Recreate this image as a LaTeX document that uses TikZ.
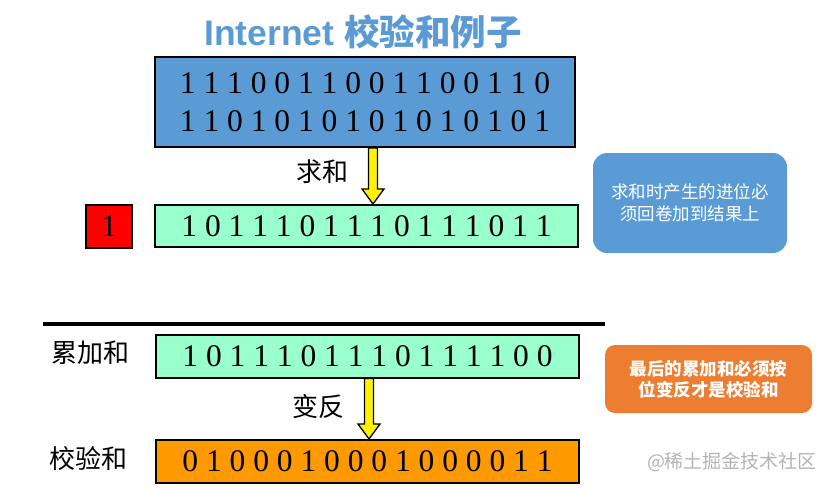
\documentclass[tikz,border=0pt]{standalone}
\usepackage{fontspec}
\setmainfont{Liberation Serif}
\newfontfamily\cjk{Noto Sans CJK SC}
\newfontfamily\titlefont{Liberation Sans}
\usetikzlibrary{calc}
\definecolor{boxblue}{HTML}{5B9BD5}
\definecolor{mint}{HTML}{99FFCC}
\definecolor{amber}{HTML}{FF9900}
\definecolor{noteorange}{HTML}{ED7D31}
\definecolor{marktext}{HTML}{B4B4B4}
\tikzset{
  bitbox/.style={draw=black, line width=2pt, inner sep=0pt, font=\fontsize{31.5}{38}\selectfont, align=center},
  lbl/.style={font=\cjk\fontsize{26}{30}\selectfont, inner sep=0pt},
  note/.style={rounded corners=14pt, inner sep=0pt, text=white, align=center, font=\cjk\fontsize{17.5}{21.5}\selectfont},
  fatarrow/.style={fill=yellow, draw=black, line width=1.3pt, line join=miter}
}
\newcommand\yellowarrow[2]{%
  \draw[fatarrow] ($(#1)+(-4.5,0)$) -- ($(#2)+(-4.5,-15)$) -- ($(#2)+(-11,-15)$) -- (#2)
    -- ($(#2)+(11,-15)$) -- ($(#2)+(4.5,-15)$) -- ($(#1)+(4.5,0)$) -- cycle;}
\begin{document}
\begin{tikzpicture}[x=1pt,y=-1pt]
\useasboundingbox (0,0) rectangle (826,487);
% title
\node[text=boxblue, inner sep=0pt] (title) at (363,32)
  {\titlefont\bfseries\fontsize{35.5}{40}\selectfont Internet {\cjk\bfseries 校验和例子}};
% data words
\node[bitbox, fill=boxblue, minimum width=420, minimum height=90] (data) at (365,102)
  {1 1 1 0 0 1 1 0 0 1 1 0 0 1 1 0\\1 1 0 1 0 1 0 1 0 1 0 1 0 1 0 1};
% sum
\node[bitbox, fill=mint, minimum width=423, minimum height=42] (sum) at (366.5,226)
  {1 0 1 1 1 0 1 1 1 0 1 1 1 0 1 1};
\node[bitbox, fill=red, minimum width=46, minimum height=43] (carry) at (109,226.5) {1};
\coordinate (a1s) at ([xshift=8pt]data.south);
\coordinate (a1e) at (a1s |- sum.north);
\yellowarrow{a1s}{a1e}
\node[lbl] (sumlbl) at (322,172) {求和};
% note 1
\node[note, fill=boxblue, minimum width=194, minimum height=100] (note1) at (690,203)
  {求和时产生的进位必\\须回卷加到结果上};
% separator
\coordinate (sepL) at (43,324);
\coordinate (sepR) at (605,324);
\draw[line width=4pt] (sepL) -- (sepR);
% accumulated sum
\node[bitbox, fill=mint, minimum width=423, minimum height=43] (acc) at (367.5,356)
  {1 0 1 1 1 0 1 1 1 0 1 1 1 1 0 0};
\node[lbl] (acclbl) at (90,353) {累加和};
% checksum
\node[bitbox, fill=amber, minimum width=423, minimum height=43] (chk) at (367.5,461.5)
  {0 1 0 0 0 1 0 0 0 1 0 0 0 0 1 1};
\node[lbl] (chklbl) at (88,459) {校验和};
\coordinate (a2s) at ([xshift=1.5pt]acc.south);
\coordinate (a2e) at (a2s |- chk.north);
\yellowarrow{a2s}{a2e}
\node[lbl] (invlbl) at (318,407) {变反};
% note 2
\node[note, rounded corners=10pt, fill=noteorange, minimum width=207, minimum height=68,
  font=\cjk\bfseries\fontsize{17.5}{21}\selectfont] (note2) at (708.5,379)
  {最后的累加和必须按\\位变反才是校验和};
% watermark
\node[text=marktext, inner sep=0pt, font=\cjk\fontsize{19}{22}\selectfont] (mark) at (732,462)
  {@稀土掘金技术社区};
\end{tikzpicture}
\end{document}
